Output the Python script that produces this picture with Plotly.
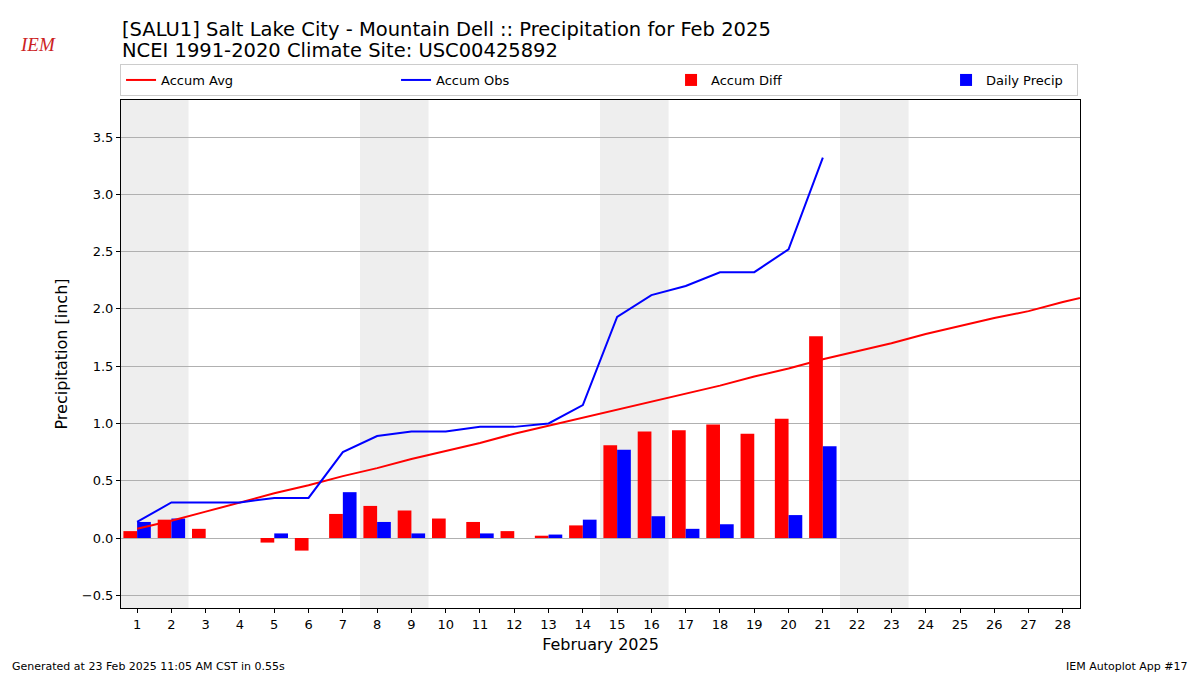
import plotly.graph_objects as go
import pandas as pd

days_avg = list(range(1, 30))
accum_avg = [0.08, 0.15, 0.23, 0.31, 0.39, 0.46, 0.54, 0.61, 0.69, 0.76,
             0.83, 0.91, 0.98, 1.05, 1.12, 1.19, 1.26, 1.33, 1.41, 1.48,
             1.56, 1.63, 1.70, 1.78, 1.85, 1.92, 1.98, 2.06, 2.13]
days_obs = list(range(1, 22))
accum_obs = [0.14, 0.31, 0.31, 0.31, 0.35, 0.35, 0.75, 0.89, 0.93, 0.93,
             0.97, 0.97, 1.00, 1.16, 1.93, 2.12, 2.20, 2.32, 2.32, 2.52, 3.32]
daily_precip = [0.14, 0.17, 0.0, 0.0, 0.04, 0.0, 0.40, 0.14, 0.04, 0.0,
                0.04, 0.0, 0.03, 0.16, 0.77, 0.19, 0.08, 0.12, 0.0, 0.20, 0.80]
accum_diff = [0.06, 0.16, 0.08, 0.0, -0.04, -0.11, 0.21, 0.28, 0.24, 0.17,
              0.14, 0.06, 0.02, 0.11, 0.81, 0.93, 0.94, 0.99, 0.91, 1.04, 1.76]
tick_days = list(range(1, 29))

title1 = "[SALU1] Salt Lake City - Mountain Dell :: Precipitation for Feb 2025"
title2 = "NCEI 1991-2020 Climate Site: USC00425892"
footer_left = "Generated at 23 Feb 2025 11:05 AM CST in 0.55s"
footer_right = "IEM Autoplot App #17"

FONT = "DejaVu Sans"
fig = go.Figure()

fig.add_trace(go.Bar(x=days_obs, y=accum_diff, name="Accum Diff", marker_color="#ff0000",
                     marker_line_width=0, width=0.4, offset=-0.4, legendrank=3, legendwidth=230))
fig.add_trace(go.Bar(x=days_obs, y=daily_precip, name="Daily Precip", marker_color="#0000ff",
                     marker_line_width=0, width=0.4, offset=0.0, legendrank=4, legendwidth=86))
fig.add_trace(go.Scatter(x=days_avg, y=accum_avg, name="Accum Avg", mode="lines",
                         line=dict(color="#ff0000", width=2), legendrank=1, legendwidth=230))
fig.add_trace(go.Scatter(x=days_obs, y=accum_obs, name="Accum Obs", mode="lines",
                         line=dict(color="#0000ff", width=2), legendrank=2, legendwidth=230))

# weekend shading from calendar
for d in tick_days:
    if pd.Timestamp(2025, 2, d).dayofweek == 5:
        fig.add_vrect(x0=d - 0.5, x1=d + 1.5, fillcolor="#eeeeee", line_width=0, layer="below")

fig.update_layout(
    width=1200, height=675,
    margin=dict(l=121, r=120, t=100, b=67),
    plot_bgcolor="white", paper_bgcolor="white",
    barmode="overlay",
    font=dict(family=FONT, size=13, color="black"),
    showlegend=True,
    legend=dict(orientation="h", x=-0.001, y=1 + 4 / 508, xanchor="left", yanchor="bottom",
                bordercolor="#cccccc", borderwidth=1, bgcolor="white",
                font=dict(family=FONT, size=13), traceorder="normal"),
    xaxis=dict(range=[0.53, 28.5], tickmode="array", tickvals=tick_days,
               ticktext=[str(d) for d in tick_days], showgrid=False, zeroline=False,
               showline=True, linecolor="black", linewidth=1, mirror=True,
               ticks="outside", ticklen=4, tickcolor="black",
               title=dict(text="February 2025", font=dict(size=16), standoff=8)),
    yaxis=dict(range=[-0.611, 3.823], tickmode="array",
               tickvals=[-0.5, 0, 0.5, 1.0, 1.5, 2.0, 2.5, 3.0, 3.5],
               ticktext=["−0.5", "0.0", "0.5", "1.0", "1.5", "2.0", "2.5", "3.0", "3.5"],
               showgrid=True, gridcolor="#b0b0b0", gridwidth=1, zeroline=False,
               showline=True, linecolor="black", linewidth=1, mirror=True,
               ticks="outside", ticklen=4, tickcolor="black",
               title=dict(text="Precipitation [inch]", font=dict(size=16), standoff=10)),
)

fig.add_annotation(text=title1, xref="paper", yref="paper", x=-0.001, y=1 + (100 - 29) / 508,
                   xanchor="left", yanchor="middle", showarrow=False, font=dict(size=19.5, family=FONT))
fig.add_annotation(text=title2, xref="paper", yref="paper", x=-0.001, y=1 + (100 - 51) / 508,
                   xanchor="left", yanchor="middle", showarrow=False, font=dict(size=19.5, family=FONT))
fig.add_annotation(text=footer_left, xref="paper", yref="paper", x=-111 / 959, y=-(666 - 608) / 508,
                   xanchor="left", yanchor="middle", showarrow=False, font=dict(size=11, family=FONT))
fig.add_annotation(text=footer_right, xref="paper", yref="paper", x=1 + 110 / 959, y=-(666 - 608) / 508,
                   xanchor="right", yanchor="middle", showarrow=False, font=dict(size=11, family=FONT))
fig.add_annotation(text="<i>IEM</i>", xref="paper", yref="paper", x=-(121 - 38) / 959, y=1 + (100 - 45) / 508,
                   xanchor="center", yanchor="middle", showarrow=False,
                   font=dict(size=19, family="Liberation Serif", color="#cc2222"))

fig.write_html("out.html", config={"displayModeBar": False},
               post_script="document.body.style.margin='0';")
